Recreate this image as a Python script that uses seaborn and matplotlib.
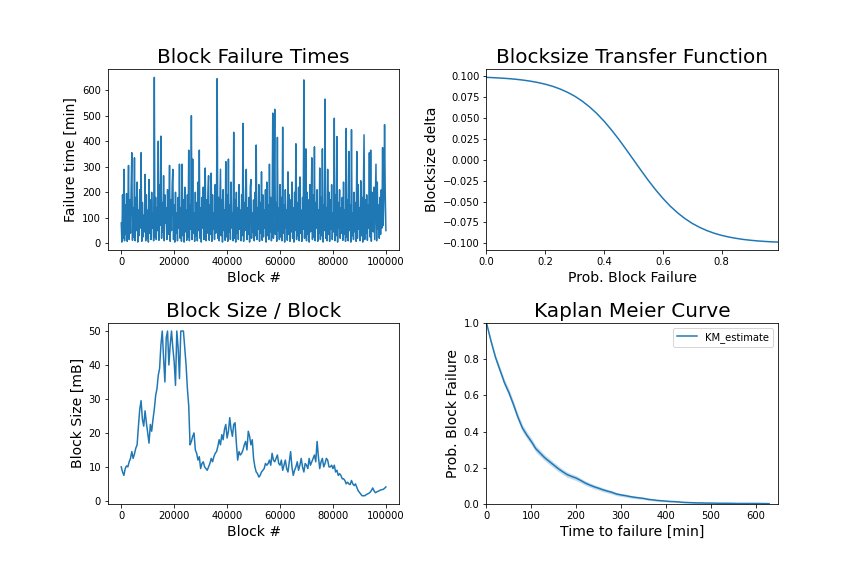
import matplotlib
matplotlib.use("Agg")
import matplotlib.pyplot as plt
import seaborn as sns
import numpy as np

# failure time per block (sampled every 250 blocks)
failure_times = [
    80, 5, 190, 20, 290, 10, 150, 35, 195, 8,
    120, 305, 15, 170, 40, 220, 355, 12, 140, 25,
    335, 10, 180, 50, 240, 5, 130, 30, 210, 60,
    355, 8, 160, 25, 110, 45, 270, 10, 190, 20,
    130, 5, 250, 40, 170, 15, 200, 60, 120, 10,
    650, 25, 180, 15, 140, 50, 400, 12, 230, 70,
    420, 20, 160, 45, 265, 10, 190, 80, 140, 15,
    210, 35, 120, 305, 8, 170, 50, 230, 290, 15,
    150, 5, 200, 40, 120, 10, 180, 60, 310, 20,
    140, 8, 310, 30, 170, 5, 220, 45, 130, 12,
    190, 25, 365, 10, 150, 55, 500, 15, 330, 40,
    120, 8, 200, 30, 160, 10, 240, 50, 365, 20,
    140, 5, 180, 60, 220, 15, 130, 295, 10, 170,
    40, 200, 265, 12, 150, 35, 275, 8, 190, 55,
    120, 15, 230, 40, 160, 645, 20, 180, 10, 140,
    290, 30, 170, 5, 210, 50, 130, 12, 320, 25,
    190, 8, 330, 45, 150, 15, 240, 60, 120, 10,
    435, 20, 170, 5, 200, 40, 140, 15, 230, 55,
    130, 10, 190, 30, 470, 8, 160, 50, 210, 290,
    15, 140, 35, 180, 5, 220, 250, 20, 120, 45,
    170, 10, 200, 30, 385, 15, 140, 55, 230, 8,
    160, 40, 280, 12, 190, 25, 130, 60, 210, 5,
    240, 30, 150, 15, 310, 45, 180, 10, 120, 510,
    20, 200, 525, 35, 160, 8, 415, 50, 140, 15,
    230, 25, 180, 10, 455, 40, 150, 5, 210, 60,
    130, 12, 280, 35, 190, 8, 170, 45, 240, 20,
    140, 5, 200, 50, 390, 15, 160, 30, 220, 10,
    260, 40, 130, 8, 180, 55, 640, 20, 150, 370,
    10, 200, 35, 170, 5, 230, 45, 140, 335, 15,
    190, 25, 378, 10, 160, 60, 210, 8, 130, 40,
    295, 15, 180, 30, 370, 5, 150, 50, 565, 20,
    140, 10, 290, 35, 200, 8, 170, 55, 230, 15,
    120, 45, 490, 10, 190, 30, 418, 5, 160, 60,
    210, 20, 140, 40, 180, 12, 240, 35, 130, 8,
    450, 25, 170, 10, 360, 50, 150, 5, 445, 30,
    120, 15, 200, 45, 160, 8, 360, 20, 230, 55,
    140, 10, 245, 30, 180, 5, 210, 425, 15, 170,
    40, 190, 12, 150, 60, 355, 25, 365, 8, 200,
    130, 45, 220, 15, 170, 310, 10, 240, 55, 150,
    20, 180, 35, 210, 60, 375, 70, 190, 465, 200,
    50,
]
failure_step = 250

# block size [mB] sampled every 500 blocks
block_sizes = [
    10.0, 8.5, 7.5, 9.5, 10.3, 10.0, 11.5, 12.5, 14.5, 12.5,
    13.8, 15.5, 16.5, 22, 27, 29.5, 24, 22, 26.5, 23,
    20, 17, 22.5, 20.5, 24, 27, 31, 33, 37, 39,
    46, 50, 42, 35, 48, 50, 40, 46, 50, 45,
    41, 34, 50, 45, 36, 50, 50, 50, 45, 40,
    33, 28, 16.5, 17.5, 19, 20, 15, 14, 12, 13,
    9.5, 11, 11.5, 10, 9.5, 9.0, 10, 11, 12.5, 11.5,
    13, 14, 14.5, 16, 18, 16.5, 19.5, 18, 21, 22.5,
    18.5, 20.5, 24.5, 21, 19, 22.5, 23, 17, 12, 14.5,
    13.5, 14, 15, 16.5, 17.5, 15, 20.5, 19, 16.5, 18,
    12.5, 10, 8.5, 8, 7, 7.5, 8.5, 9, 9.5, 11,
    10.5, 11, 12, 10.5, 14, 12, 11.5, 12.5, 13.5, 11,
    10.5, 12, 9, 10.5, 12, 9.5, 8.5, 11.5, 14.5, 10,
    7.5, 9, 10, 11.5, 9, 10.5, 12.5, 10, 8.5, 11,
    10.5, 9.5, 12.5, 10.5, 11.5, 12.5, 13.5, 11.5, 17.5, 13,
    9.5, 11.5, 12.5, 10, 11, 12.5, 12, 10, 10, 10.5,
    9.5, 10.5, 8.5, 9, 7.5, 8, 7.5, 6.5, 6.5, 6,
    5, 5.5, 5, 4.8, 6, 5, 4.5, 5, 4, 3,
    2.5, 2, 1.5, 1.5, 1.5, 1.8, 2, 2.2, 2.5, 3,
    3.8, 3, 2.4, 2.6, 2.8, 3, 3.2, 3.3, 3.4, 3.7,
    4.1,
]
size_step = 500

# transfer function
prob_fail = [0.0, 0.025, 0.05, 0.075, 0.1, 0.125, 0.15, 0.175, 0.2, 0.225,
             0.25, 0.275, 0.3, 0.325, 0.35, 0.375, 0.4, 0.425, 0.45, 0.475,
             0.5, 0.525, 0.55, 0.575, 0.6, 0.625, 0.65, 0.675, 0.7, 0.725,
             0.75, 0.775, 0.8, 0.825, 0.85, 0.875, 0.9, 0.925, 0.95, 0.975, 0.99]
size_delta = [0.0987, 0.0983, 0.0978, 0.0972, 0.0964, 0.0954, 0.0941, 0.0925, 0.0905, 0.0880,
              0.0848, 0.0809, 0.0762, 0.0704, 0.0635, 0.0555, 0.0462, 0.0358, 0.0245, 0.0124,
              0.0, -0.0124, -0.0245, -0.0358, -0.0462, -0.0555, -0.0635, -0.0704, -0.0762, -0.0809,
              -0.0848, -0.0880, -0.0905, -0.0925, -0.0941, -0.0954, -0.0964, -0.0972, -0.0978, -0.0983, -0.0985]

# Kaplan Meier estimate
km_times = list(range(0, 510, 10)) + [520, 540, 560, 580, 600, 630]
km_estimate = [
    1.0, 0.90, 0.81, 0.74, 0.67, 0.615, 0.55, 0.48, 0.42, 0.38,
    0.345, 0.305, 0.28, 0.255, 0.235, 0.215, 0.195, 0.178, 0.162, 0.152,
    0.143, 0.13, 0.116, 0.105, 0.095, 0.087, 0.078, 0.071, 0.064, 0.055,
    0.05, 0.046, 0.041, 0.037, 0.034, 0.031, 0.026, 0.023, 0.02, 0.018,
    0.016, 0.014, 0.013, 0.011, 0.009, 0.008, 0.007, 0.006, 0.006, 0.005,
    0.005, 0.004, 0.004, 0.003, 0.003, 0.003, 0.002,
]
km_ci = [
    0.0, 0.012, 0.016, 0.018, 0.019, 0.02, 0.02, 0.02, 0.02, 0.019,
    0.019, 0.018, 0.018, 0.017, 0.017, 0.016, 0.016, 0.015, 0.015, 0.014,
    0.014, 0.013, 0.013, 0.012, 0.012, 0.011, 0.011, 0.01, 0.01, 0.009,
    0.009, 0.008, 0.008, 0.007, 0.007, 0.006, 0.006, 0.005, 0.005, 0.005,
    0.004, 0.004, 0.004, 0.004, 0.003, 0.003, 0.003, 0.003, 0.003, 0.003,
    0.002, 0.002, 0.002, 0.002, 0.002, 0.002, 0.002,
]

blue = '#1f77b4'

fig = plt.figure(figsize=(12, 8), dpi=72)
fig.subplots_adjust(left=0.125, right=0.9, top=0.88, bottom=0.125, hspace=0.4, wspace=0.3)

# Block failure times
ax1 = fig.add_subplot(2, 2, 1)
fx = np.arange(len(failure_times)) * failure_step
sns.lineplot(x=fx, y=failure_times, color=blue, ax=ax1)
ax1.set_title('Block Failure Times', fontsize=20)
ax1.set_xlabel('Block #', fontsize=14)
ax1.set_ylabel('Failure time [min]', fontsize=14)

# Transfer function
ax2 = fig.add_subplot(2, 2, 2)
sns.lineplot(x=prob_fail, y=size_delta, color=blue, ax=ax2)
ax2.set_xlim(0, 0.99)
ax2.set_title('Blocksize Transfer Function', fontsize=20)
ax2.set_xlabel('Prob. Block Failure', fontsize=14)
ax2.set_ylabel('Blocksize delta', fontsize=14)

# Block size per block
ax3 = fig.add_subplot(2, 2, 3)
sx = np.arange(len(block_sizes)) * size_step
sns.lineplot(x=sx, y=block_sizes, color=blue, ax=ax3)
ax3.set_title('Block Size / Block', fontsize=20)
ax3.set_xlabel('Block #', fontsize=14)
ax3.set_ylabel('Block Size [mB]', fontsize=14)

# Kaplan Meier
ax4 = fig.add_subplot(2, 2, 4)
km_lo = np.clip(np.array(km_estimate) - np.array(km_ci), 0, 1)
km_hi = np.clip(np.array(km_estimate) + np.array(km_ci), 0, 1)
ax4.fill_between(km_times, km_lo, km_hi, color=blue, alpha=0.25, linewidth=0)
sns.lineplot(x=km_times, y=km_estimate, color=blue, label='KM_estimate', ax=ax4)
ax4.set_xlim(0, 649)
ax4.set_ylim(0, 1)
ax4.set_title('Kaplan Meier Curve', fontsize=20)
ax4.set_xlabel('Time to failure [min]', fontsize=14)
ax4.set_ylabel('Prob. Block Failure', fontsize=14)
ax4.legend(loc='upper right')

fig.savefig('out.png', dpi=72)
